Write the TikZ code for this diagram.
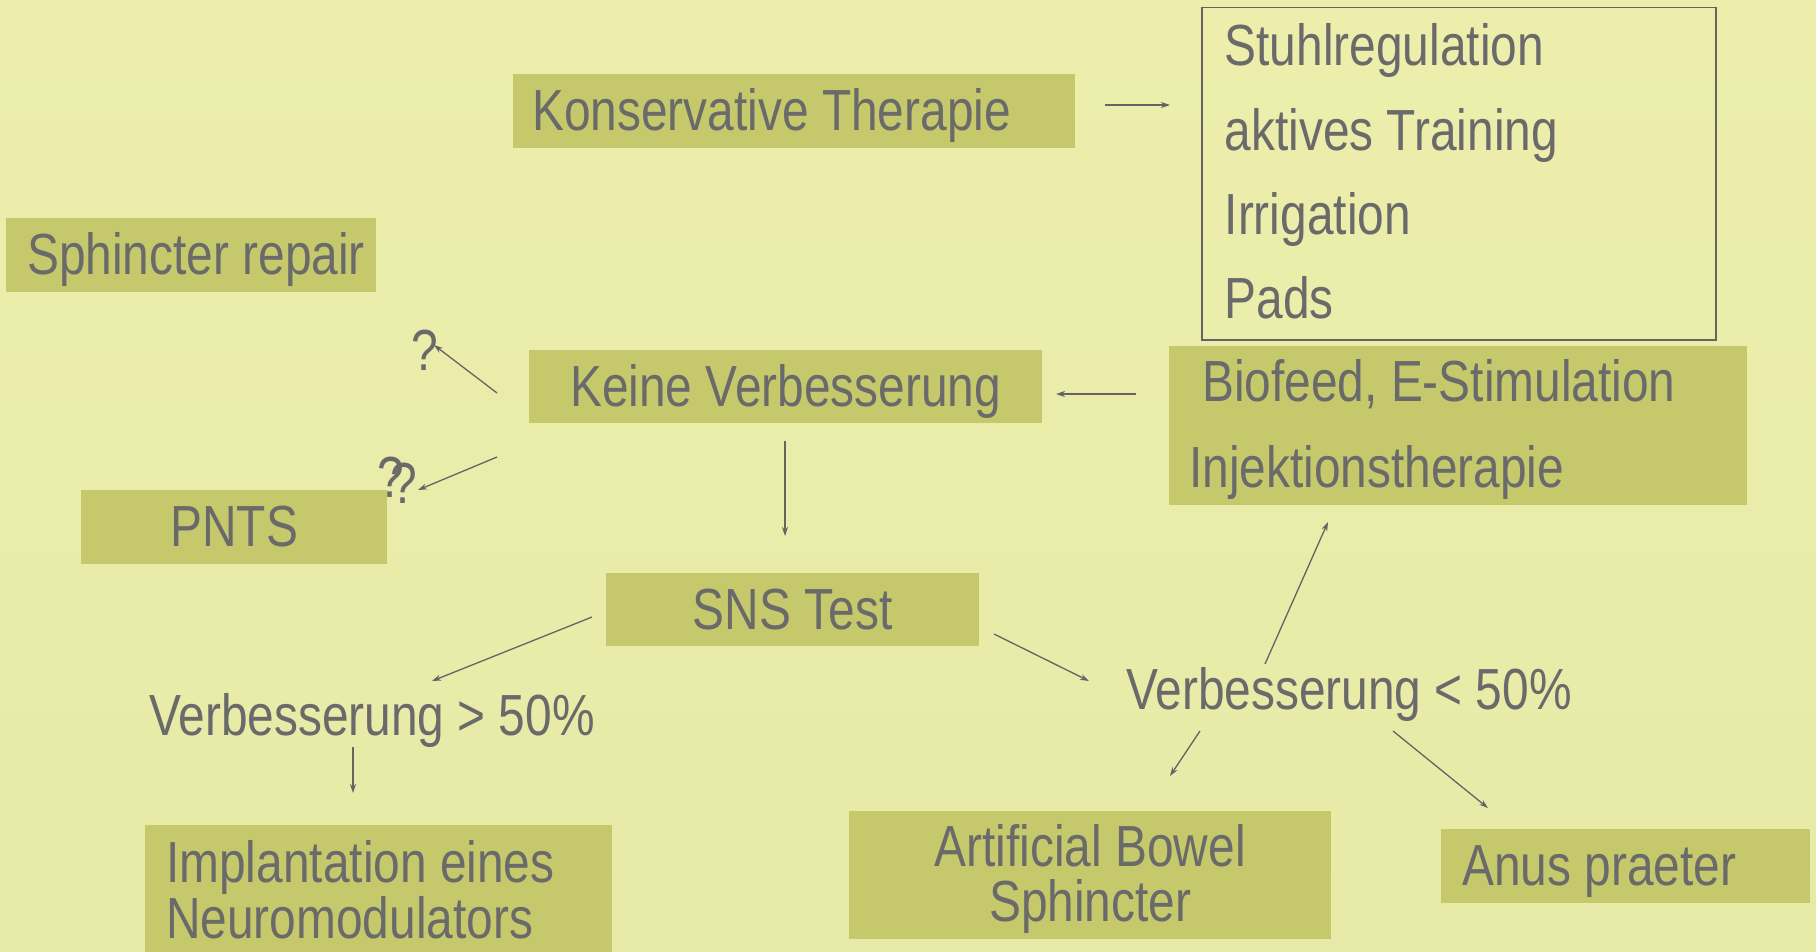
\documentclass[tikz,border=0pt]{standalone}
\usepackage{fontspec}
\setmainfont{Liberation Sans}[FakeStretch=0.825]
\usetikzlibrary{arrows.meta}
\definecolor{bgtop}{RGB}{237,238,171}
\definecolor{bgbot}{RGB}{231,234,167}
\definecolor{boxc}{RGB}{197,201,108}
\definecolor{txtc}{RGB}{106,106,106}
\definecolor{linec}{RGB}{100,100,100}
\newcommand\bigfs{\fontsize{58}{70}\selectfont}
\begin{document}
\begin{tikzpicture}[x=1pt,y=-1pt,
  box/.style={fill=boxc, text=txtc, inner ysep=0pt, anchor=north west, font=\bigfs},
  oneline/.style={text height=42pt, text depth=3pt},
  plain/.style={text=txtc, inner sep=0pt, font=\bigfs},
  arr/.style={draw=linec, line width=1.3pt, -{Stealth[length=9pt,width=6pt]}}]
\useasboundingbox (0,0) rectangle (1816,952);
\shade[top color=bgtop, bottom color=bgbot] (0,0) rectangle (1816,952);

% boxes
\node[box, oneline, inner xsep=19pt, text width=524pt, minimum height=74pt, align=flush left] (kons) at (513,74) {Konservative Therapie};
\node[draw=linec, line width=1.5pt, text=txtc, anchor=north west, inner xsep=23pt, inner ysep=0pt, text width=468pt, minimum height=332pt, align=flush left, font={\fontsize{58}{84.3}\selectfont}] (list) at (1201,7) {Stuhlregulation\\aktives Training\\Irrigation\\Pads\rule[-5pt]{0pt}{5pt}};
\node[box, oneline, inner xsep=10pt, text width=350pt, minimum height=74pt, align=flush left] (sph) at (6,218) {\hspace*{11pt}Sphincter repair};
\node[box, oneline, inner xsep=20pt, text width=473pt, minimum height=73pt, align=flush center] (keine) at (529,350) {Keine Verbesserung};
\node[box, inner xsep=20pt, text width=538pt, minimum height=159pt, align=flush left, font={\fontsize{58}{86}\selectfont}] (bio) at (1169,346) {\hspace*{13pt}\rule{0pt}{49pt}Biofeed, E-Stimulation\\Injektionstherapie};
\node[box, oneline, inner xsep=20pt, text width=266pt, minimum height=74pt, align=flush center] (pnts) at (81,490) {PNTS};
\node[box, oneline, inner xsep=20pt, text width=333pt, minimum height=73pt, align=flush center] (sns) at (606,573) {SNS Test};
\node[box, inner xsep=21pt, text width=425pt, minimum height=130pt, align=flush left, font={\fontsize{58}{56}\selectfont}] (impl) at (145,825) {Implantation eines\\Neuromodulators};
\node[box, inner xsep=20pt, text width=442pt, minimum height=128pt, align=flush center, font={\fontsize{58}{55}\selectfont}] (abs) at (849,811) {\rule{0pt}{50pt}Artificial Bowel\\Sphincter};
\node[box, oneline, inner xsep=21pt, text width=327pt, minimum height=74pt, align=flush left] (anus) at (1441,829) {Anus praeter};

% plain texts
\node[plain, anchor=west] (vgt) at (149,721) {Verbesserung > 50\%};
\node[plain, anchor=west] (vlt) at (1126,694) {Verbesserung < 50\%};
\node[plain] (q1) at (425,350) {?};
\node[plain] (q2) at (397,480) {?\kern-14pt\raisebox{-6pt}{?}};

% connector end points
\coordinate (a1s) at (1105,105); \coordinate (a1e) at (1170,105);
\coordinate (a2s) at (1136,394); \coordinate (a2e) at (1056,394);
\coordinate (a3s) at (497,393);  \coordinate (a3e) at (434,345);
\coordinate (a4s) at (497,457);  \coordinate (a4e) at (418,490);
\coordinate (a5s) at (785,441);  \coordinate (a5e) at (785,536);
\coordinate (a6s) at (592,617);  \coordinate (a6e) at (432,681);
\coordinate (a7s) at (353,747);  \coordinate (a7e) at (353,793);
\coordinate (a8s) at (994,634);  \coordinate (a8e) at (1089,681);
\coordinate (a9s) at (1265,664); \coordinate (a9e) at (1328,522);
\coordinate (a10s) at (1200,731); \coordinate (a10e) at (1170,776);
\coordinate (a11s) at (1393,731); \coordinate (a11e) at (1488,808);

\draw[arr] (a1s) -- (a1e);
\draw[arr] (a2s) -- (a2e);
\draw[arr] (a3s) -- (a3e);
\draw[arr] (a4s) -- (a4e);
\draw[arr] (a5s) -- (a5e);
\draw[arr] (a6s) -- (a6e);
\draw[arr] (a7s) -- (a7e);
\draw[arr] (a8s) -- (a8e);
\draw[arr] (a9s) -- (a9e);
\draw[arr] (a10s) -- (a10e);
\draw[arr] (a11s) -- (a11e);
\end{tikzpicture}
\end{document}
